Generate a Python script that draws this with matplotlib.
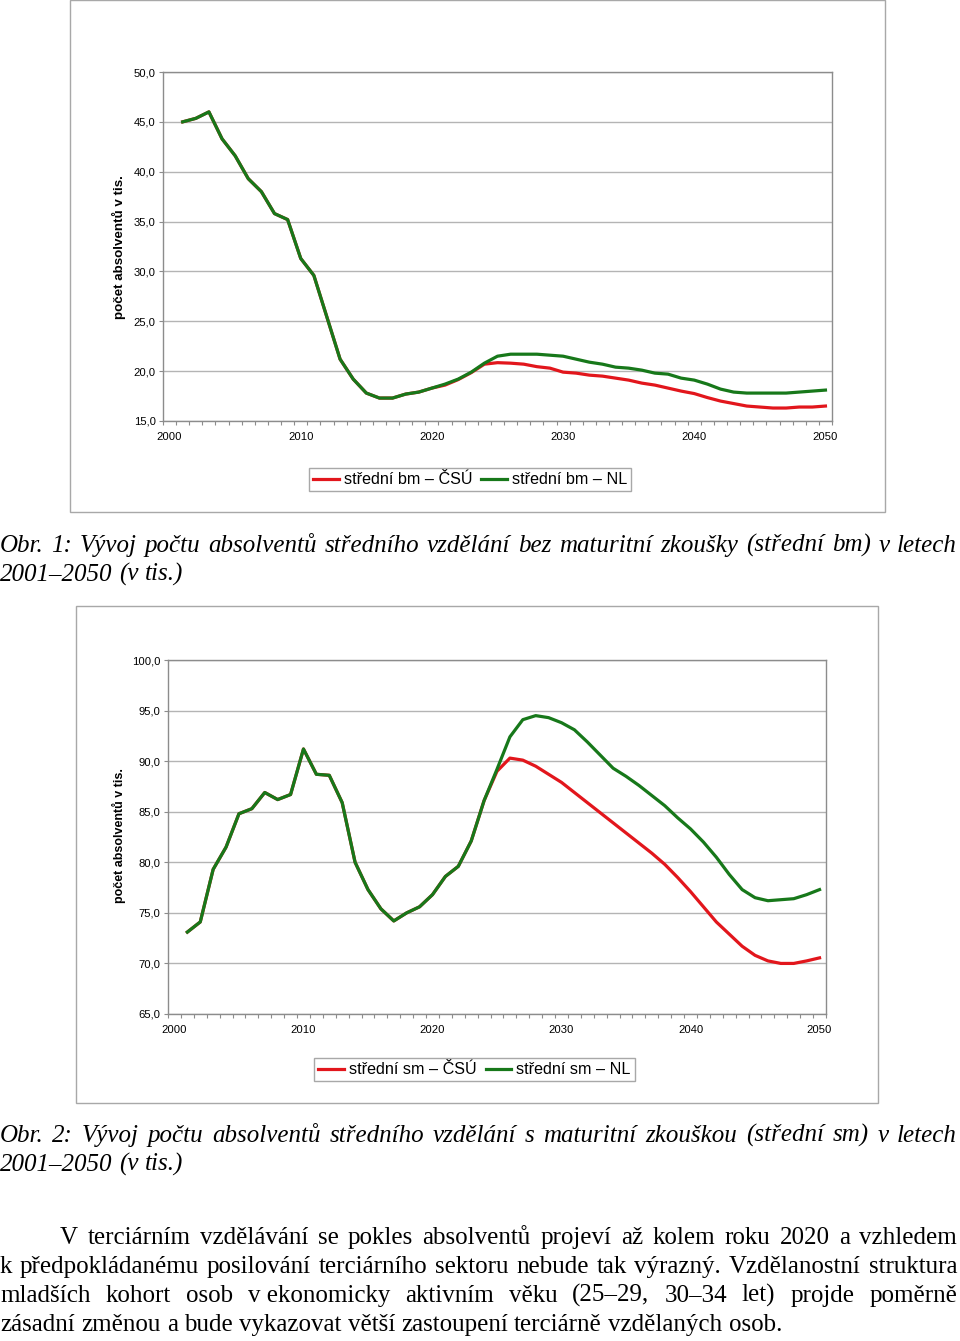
import matplotlib
matplotlib.use('Agg')
import matplotlib.pyplot as plt
from matplotlib.patches import Rectangle

# Rozmery stranky v pixelech
W, H = 960, 1341

years = list(range(2001, 2051))

# Obr. 1 - stredni bez maturity (v tis.)
bm_csu = [45.0, 45.35, 46.0, 43.3, 41.6, 39.3, 38.0, 35.8, 35.2, 31.3,
          29.6, 25.4, 21.2, 19.2, 17.8, 17.3, 17.3, 17.7, 17.9, 18.3,
          18.6, 19.15, 19.85, 20.7, 20.85, 20.8, 20.7, 20.45, 20.3, 19.9,
          19.8, 19.6, 19.5, 19.3, 19.1, 18.8, 18.6, 18.3, 18.0, 17.75,
          17.35, 17.0, 16.75, 16.5, 16.4, 16.3, 16.3, 16.4, 16.4, 16.5]
bm_nl = [45.0, 45.35, 46.0, 43.3, 41.6, 39.3, 38.0, 35.8, 35.2, 31.3,
         29.6, 25.4, 21.2, 19.2, 17.8, 17.3, 17.3, 17.7, 17.9, 18.3,
         18.7, 19.2, 19.9, 20.8, 21.5, 21.7, 21.7, 21.7, 21.6, 21.5,
         21.2, 20.9, 20.7, 20.4, 20.3, 20.1, 19.8, 19.7, 19.3, 19.1,
         18.7, 18.2, 17.9, 17.8, 17.8, 17.8, 17.8, 17.9, 18.0, 18.1]

# Obr. 2 - stredni s maturitou (v tis.)
sm_csu = [73.1, 74.1, 79.3, 81.5, 84.8, 85.3, 86.9, 86.2, 86.7, 91.2,
          88.7, 88.6, 85.9, 80.0, 77.3, 75.4, 74.2, 75.0, 75.6, 76.8,
          78.6, 79.6, 82.1, 86.1, 89.0, 90.3, 90.1, 89.5, 88.7, 87.9,
          86.9, 85.9, 84.9, 83.9, 82.9, 81.9, 80.9, 79.8, 78.5, 77.1,
          75.6, 74.1, 72.9, 71.7, 70.8, 70.25, 70.0, 70.0, 70.25, 70.55]
sm_nl = [73.1, 74.1, 79.3, 81.5, 84.8, 85.3, 86.9, 86.2, 86.7, 91.2,
         88.7, 88.6, 85.9, 80.0, 77.3, 75.4, 74.2, 75.0, 75.6, 76.8,
         78.6, 79.6, 82.1, 86.1, 89.2, 92.4, 94.1, 94.5, 94.3, 93.8,
         93.1, 91.9, 90.6, 89.3, 88.5, 87.6, 86.6, 85.6, 84.4, 83.3,
         82.0, 80.5, 78.8, 77.3, 76.5, 76.2, 76.3, 76.4, 76.8, 77.3]

xticks = [2000, 2010, 2020, 2030, 2040, 2050]
yticks1 = [15, 20, 25, 30, 35, 40, 45, 50]
yticks2 = [65, 70, 75, 80, 85, 90, 95, 100]

ylabel = 'počet absolventů v tis.'
caption1 = ['Obr. 1: Vývoj počtu absolventů středního vzdělání bez maturitní zkoušky (střední bm) v letech',
            '2001–2050 (v tis.)']
caption2 = ['Obr. 2: Vývoj počtu absolventů středního vzdělání s maturitní zkouškou (střední sm) v letech',
            '2001–2050 (v tis.)']
paragraph = ['V terciárním vzdělávání se pokles absolventů projeví až kolem roku 2020 a vzhledem',
             'k předpokládanému posilování terciárního sektoru nebude tak výrazný. Vzdělanostní struktura',
             'mladších kohort osob v\u00a0ekonomicky aktivním věku (25–29, 30–34 let) projde poměrně',
             'zásadní změnou a bude vykazovat větší zastoupení terciárně vzdělaných osob.']

RED = '#e2161c'
GREEN = '#17781a'
GRID = '#b4b4b4'
FRAME = '#8c8c8c'
SANS = 'Liberation Sans'
SERIF = 'Liberation Serif'
TEXT_SIZE = 18

fig = plt.figure(figsize=(W / 100, H / 100), dpi=100)


def px_axes(x0, y0, x1, y1):
    return fig.add_axes([x0 / W, 1 - y1 / H, (x1 - x0) / W, (y1 - y0) / H])


def box(x0, y0, x1, y1):
    fig.patches.append(Rectangle((x0 / W, 1 - y1 / H), (x1 - x0) / W, (y1 - y0) / H,
                                 transform=fig.transFigure, fill=False,
                                 edgecolor='#a8a8a8', lw=1.0))


def chart(rect, csu, nl, yticks, labels, leg_center):
    ax = px_axes(*rect)
    ax.plot(years, csu, color=RED, lw=2.3, label=labels[0], solid_joinstyle='round')
    ax.plot(years, nl, color=GREEN, lw=2.3, label=labels[1], solid_joinstyle='round')
    ax.set_xlim(1999.5, 2050.5)
    ax.set_ylim(yticks[0], yticks[-1])
    ax.set_yticks(yticks)
    ax.set_yticklabels([f'{v:.1f}'.replace('.', ',') for v in yticks],
                       fontsize=8.1, family=SANS)
    ax.set_xticks(xticks)
    ax.set_xticklabels([str(v) for v in xticks], fontsize=8.1, family=SANS)
    ax.set_xticks([y + 0.5 for y in range(1999, 2051)], minor=True)
    ax.tick_params(axis='x', which='major', length=0, pad=7.8)
    ax.tick_params(axis='x', which='minor', length=3, width=0.8, color=FRAME, direction='out')
    ax.tick_params(axis='y', length=3, width=0.8, color=FRAME, pad=2.3)
    ax.grid(axis='y', color=GRID, lw=1.0)
    ax.set_axisbelow(True)
    for s in ax.spines.values():
        s.set_color(FRAME)
        s.set_linewidth(1.0)
    leg = ax.legend(loc='center', bbox_to_anchor=(leg_center[0] / W, 1 - leg_center[1] / H),
                    bbox_transform=fig.transFigure, ncol=2, fancybox=False,
                    edgecolor='#a8a8a8', framealpha=1, prop={'family': SANS, 'size': 11.6},
                    handlelength=1.6, handletextpad=0.3, columnspacing=0.55,
                    borderpad=0.25, borderaxespad=0, handleheight=0.6)
    leg.get_frame().set_linewidth(1.0)
    return ax


# Ramecky grafu
box(70, 0, 885, 512)
box(76, 606, 878, 1103)

chart((163, 72, 832, 421), bm_csu, bm_nl, yticks1,
      ['střední bm – ČSÚ', 'střední bm – NL'], (470, 479.5))
chart((168, 660, 826, 1014), sm_csu, sm_nl, yticks2,
      ['střední sm – ČSÚ', 'střední sm – NL'], (474.5, 1069.5))

fig.text(119 / W, 1 - 247 / H, ylabel, rotation=90, ha='center', va='center',
         fontsize=9.6, fontweight='bold', family=SANS)
fig.text(119 / W, 1 - 836 / H, ylabel, rotation=90, ha='center', va='center',
         fontsize=9.0, fontweight='bold', family=SANS)

renderer = fig.canvas.get_renderer()


def justified(line, x0, x1, base, style='normal', justify=True):
    # zarovnani do bloku: kazde slovo zvlast, mezery rovnomerne
    words = line.split(' ')
    texts = []
    widths = []
    for w in words:
        t = fig.text(0, 1 - base / H, w, fontsize=TEXT_SIZE, family=SERIF, style=style,
                     ha='left', va='baseline')
        widths.append(t.get_window_extent(renderer).width)
        texts.append(t)
    if justify and len(words) > 1:
        gap = (x1 - x0 - sum(widths)) / (len(words) - 1)
    else:
        probe = fig.text(0, 0, 'a a', fontsize=TEXT_SIZE, family=SERIF, style=style)
        probe2 = fig.text(0, 0, 'aa', fontsize=TEXT_SIZE, family=SERIF, style=style)
        gap = probe.get_window_extent(renderer).width - probe2.get_window_extent(renderer).width
        probe.remove()
        probe2.remove()
    x = x0
    for t, w in zip(texts, widths):
        t.set_x(x / W)
        x += w + gap


justified(caption1[0], 0, 957, 552, style='italic')
justified(caption1[1], 0, 957, 581, style='italic', justify=False)
justified(caption2[0], 0, 957, 1142, style='italic')
justified(caption2[1], 0, 957, 1171, style='italic', justify=False)

bases = [1244, 1273, 1302, 1331]
justified(paragraph[0], 60, 957, bases[0])
justified(paragraph[1], 0, 957, bases[1])
justified(paragraph[2], 0, 957, bases[2])
justified(paragraph[3], 0, 957, bases[3], justify=False)

fig.savefig('out.png', dpi=100)
